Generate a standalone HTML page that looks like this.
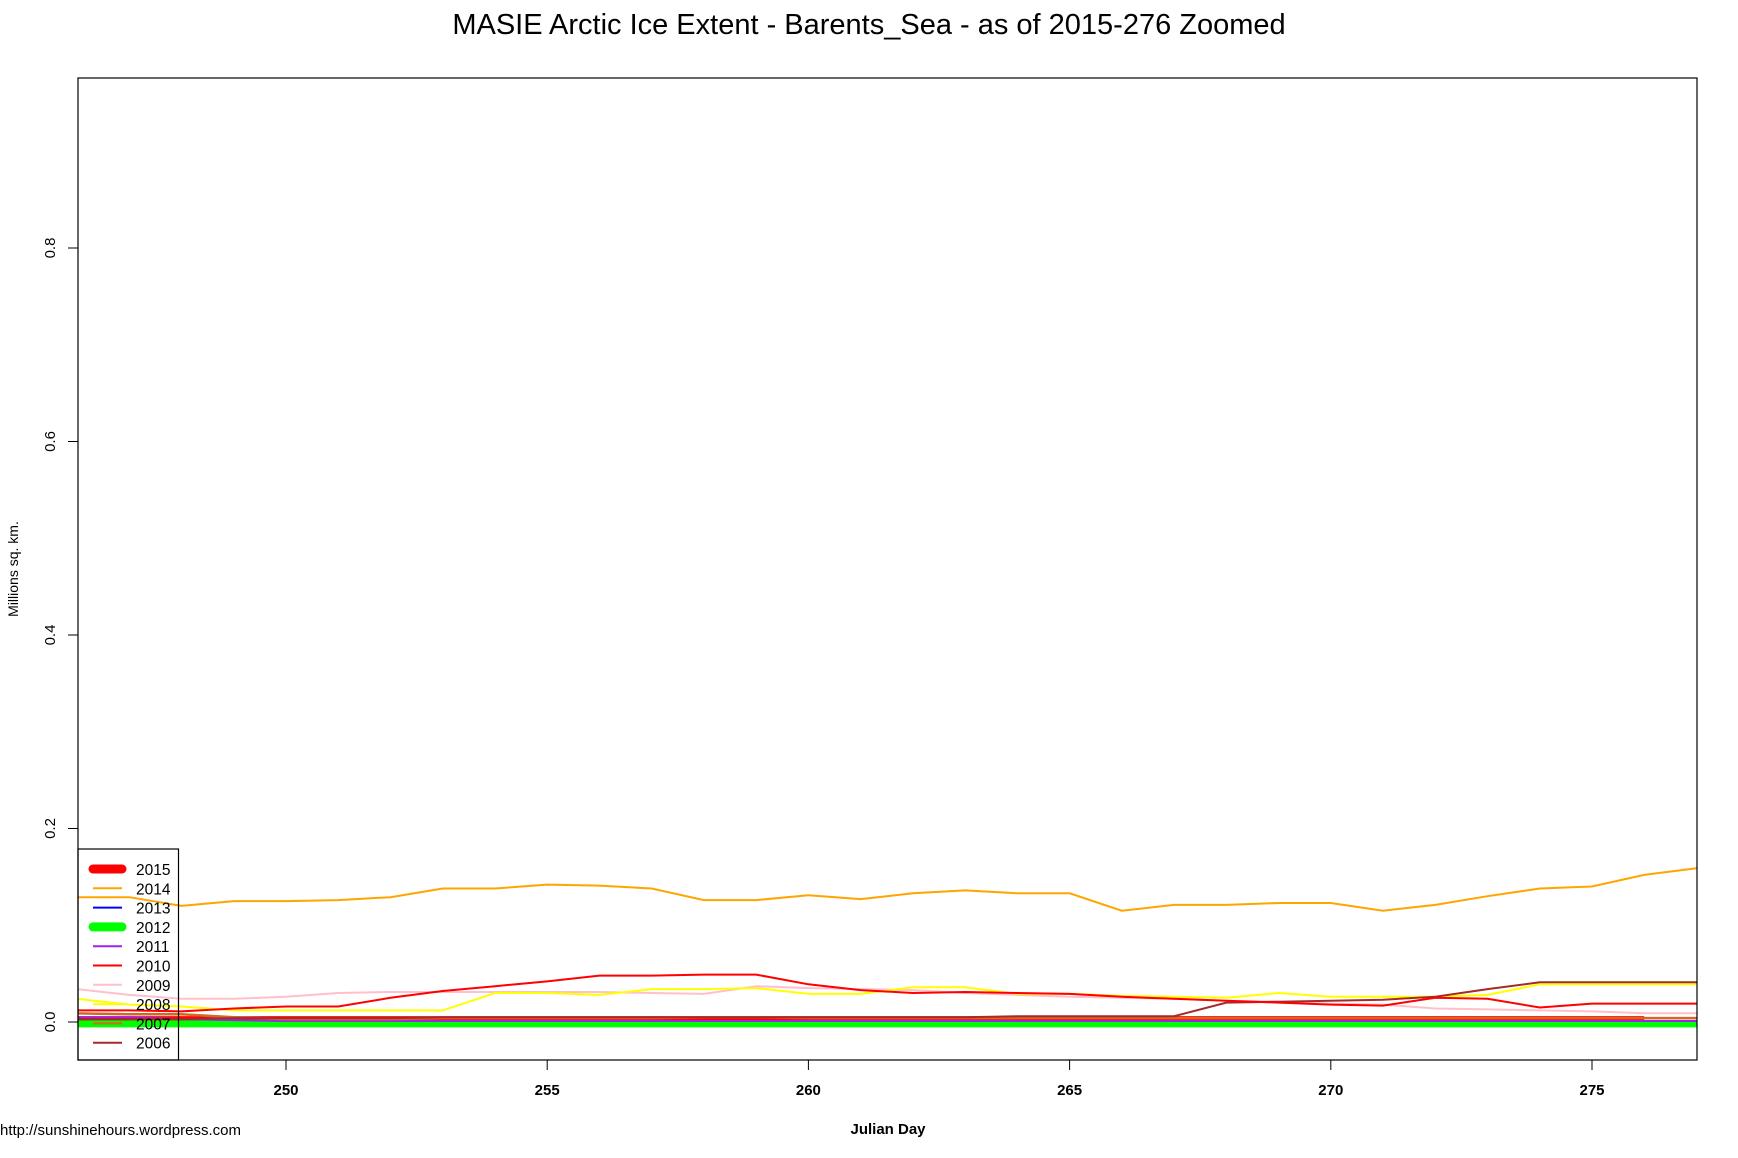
<!DOCTYPE html>
<html><head><meta charset="utf-8">
<style>
html,body{margin:0;padding:0;background:#fff;}
svg{display:block;font-family:"Liberation Sans",Arial,sans-serif;}
</style></head>
<body>
<svg id="chart" width="1738" height="1158" viewBox="0 0 1738 1158" xmlns="http://www.w3.org/2000/svg">
<text x="869" y="34" font-size="29" text-anchor="middle">MASIE Arctic Ice Extent - Barents_Sea - as of 2015-276 Zoomed</text>
<g id="series"></g>
<rect x="78" y="78" width="1619" height="982" fill="none" stroke="#000" stroke-width="1.2"/>
<g id="xaxis"></g>
<g id="yaxis"></g>
<text x="888" y="1134" font-size="15" font-weight="bold" text-anchor="middle">Julian Day</text>
<text transform="translate(18,569) rotate(-90)" font-size="14" text-anchor="middle">Millions sq. km.</text>
<text x="0" y="1135" font-size="15">http://sunshinehours.wordpress.com</text>
<g id="legend"></g>
</svg>
<script>
const days = [246,247,248,249,250,251,252,253,254,255,256,257,258,259,260,261,262,263,264,265,266,267,268,269,270,271,272,273,274,275,276,277];
const y2014 = [.129,.129,.120,.125,.125,.126,.129,.138,.138,.142,.141,.138,.126,.126,.131,.127,.133,.136,.133,.133,.115,.121,.121,.123,.123,.115,.121,.130,.138,.140,.152,.159];
const y2010 = [.012,.012,.011,.014,.016,.016,.025,.032,.037,.042,.048,.048,.049,.049,.039,.033,.030,.031,.030,.029,.026,.024,.022,.020,.018,.017,.025,.024,.015,.019,.019,.019];
const y2009 = [.034,.028,.024,.024,.026,.030,.031,.031,.031,.031,.031,.030,.029,.037,.035,.034,.033,.030,.028,.026,.025,.024,.022,.021,.019,.018,.014,.013,.012,.011,.009,.009];
const y2008 = [.024,.018,.016,.012,.012,.012,.012,.012,.030,.030,.028,.034,.034,.035,.029,.029,.036,.036,.029,.029,.027,.026,.025,.030,.026,.026,.026,.028,.039,.039,.039,.039];
const y2007 = [.009,.008,.008,.005,.003,.003,.003,.004,.004,.004,.004,.004,.005,.005,.004,.004,.004,.004,.004,.004,.004,.004,.004,.004,.004,.004,.004,.004,.004,.004,.004,.004];
const y2006 = [.003,.003,.003,.004,.004,.004,.004,.005,.005,.005,.005,.005,.005,.005,.005,.005,.005,.005,.006,.006,.006,.006,.020,.021,.022,.023,.026,.034,.041,.041,.041,.041];
const y2011 = [.005,.005,.003,.002,.001,.001,.001,.001,.001,.001,.001,.001,.001,.001,.001,.001,.001,.001,.001,.001,.001,.001,.001,.001,.001,.001,.001,.001,.001,.001,.001,.001];
const y2013 = [.000,.000,.000,.000,.000,.000,.000,.000,.000,.000,.000,.000,.000,.000,.000,.000,.000,.000,.000,.000,.000,.000,.000,.000,.000,.000,.000,.000,.000,.000,.000,.000];
const y2012 = [-.002,-.002,-.002,-.002,-.002,-.002,-.002,-.002,-.002,-.002,-.002,-.002,-.002,-.002,-.002,-.002,-.002,-.002,-.002,-.002,-.002,-.002,-.002,-.002,-.002,-.002,-.002,-.002,-.002,-.002,-.002,-.002];
const y2015 = [.002,.002,.002,.002,.002,.002,.002,.002,.002,.002,.002,.002,.002,.002,.002,.002,.002,.002,.002,.002,.002,.002,.002,.002,.002,.002,.002,.002,.002,.002,.002];
const xTicks = [250,255,260,265,270,275];
const yTicks = [0.0,0.2,0.4,0.6,0.8];
const yTickLabels = ["0.0","0.2","0.4","0.6","0.8"];
const legendYears = ["2015","2014","2013","2012","2011","2010","2009","2008","2007","2006"];

const NS="http://www.w3.org/2000/svg";
const X = d => 286 + (d-250)*52.24;
const Y = v => 1022 - v*967.5;
function el(tag, attrs, parent){const e=document.createElementNS(NS,tag);for(const k in attrs)e.setAttribute(k,attrs[k]);parent.appendChild(e);return e;}

const seriesG=document.getElementById('series');
const clip=el('clipPath',{id:'pc'},seriesG);
el('rect',{x:78,y:78,width:1619,height:982},clip);
const series=[
 ["2015",y2015,"#ff0000",8],["2013",y2013,"#0000ff",2],["2012",y2012,"#00ff00",7],
 ["2011",y2011,"#a020f0",2],["2009",y2009,"#ffc0cb",2],["2008",y2008,"#ffff00",2],
 ["2007",y2007,"#d2691e",2.5],["2006",y2006,"#a52a2a",2],["2010",y2010,"#ff0000",2],["2014",y2014,"#ffa500",2]
];
series.forEach(s=>{
  const pts=s[1].map((v,i)=>X(days[i]).toFixed(1)+","+Y(v).toFixed(1)).join(" ");
  const p=el('polyline',{points:pts,fill:"none",stroke:s[2],"stroke-width":s[3],"clip-path":"url(#pc)"},seriesG);
  
  
});

const xa=document.getElementById('xaxis');
xTicks.forEach(t=>{
  const l=el('line',{x1:X(t),x2:X(t),y1:1060,y2:1070,stroke:"#000"},xa);
  
  
  const tx=el('text',{x:X(t),y:1095,"font-size":15,"font-weight":"bold","text-anchor":"middle"},xa);
  tx.textContent=t;
  
  
});
const ya=document.getElementById('yaxis');
yTicks.forEach((t,i)=>{
  const l=el('line',{x1:68,x2:78,y1:Y(t),y2:Y(t),stroke:"#000"},ya);
  
  
  const tx=el('text',{transform:`translate(55,${Y(t)}) rotate(-90)`,"font-size":15,"text-anchor":"middle"},ya);
  tx.textContent=yTickLabels[i];
  
  
});

const lg=document.getElementById('legend');
const lcol={"2015":["#ff0000",9],"2014":["#ffa500",2],"2013":["#0000ff",2],"2012":["#00ff00",9],"2011":["#a020f0",2],"2010":["#ff0000",2],"2009":["#ffc0cb",2],"2008":["#ffff00",2],"2007":["#d2691e",2],"2006":["#a52a2a",2]};
const box=el('rect',{x:78,y:849,width:100.5,height:211,fill:"none",stroke:"#000","stroke-width":1.2},lg);


legendYears.forEach((yr,i)=>{
  const yy=869+i*19.3;
  const l=el('line',{x1:93,x2:122,y1:yy,y2:yy,stroke:lcol[yr][0],"stroke-width":lcol[yr][1],"stroke-linecap":lcol[yr][1]>4?"round":"butt"},lg);
  
  
  const t=el('text',{x:136,y:yy+6,"font-size":15.5},lg);
  t.textContent=yr;
  
  
});
</script>
</body></html>
